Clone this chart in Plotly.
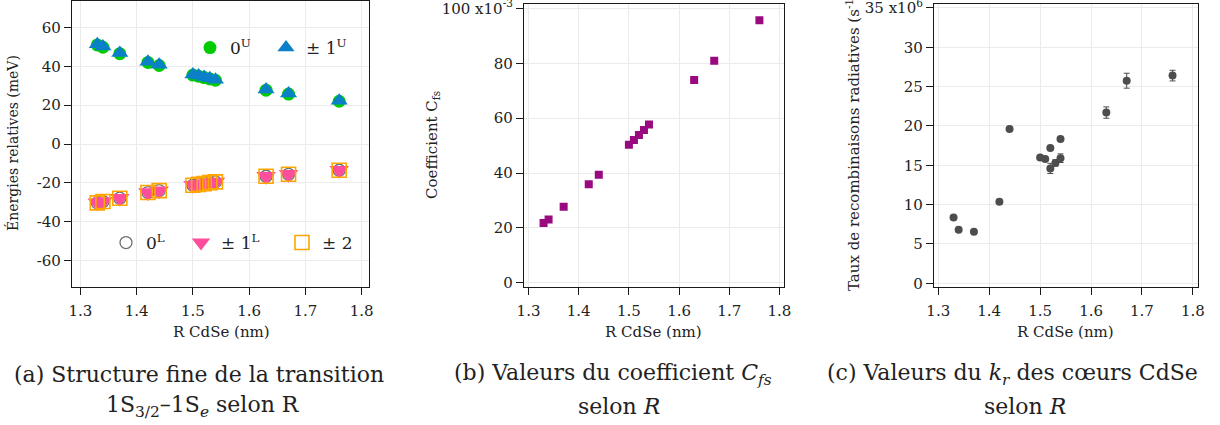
import plotly.graph_objects as go

# ---------------- data ----------------
R = [1.33, 1.34, 1.37, 1.42, 1.44, 1.50, 1.51, 1.52, 1.53, 1.54, 1.63, 1.67, 1.76]
E_0U = [51.0, 49.8, 46.5, 42.0, 40.4, 35.5, 34.9, 34.2, 33.5, 32.8, 27.7, 25.7, 22.0]
E_1U = [51.3, 50.2, 46.8, 42.3, 40.8, 35.8, 35.2, 34.5, 33.8, 33.1, 28.0, 26.0, 22.3]
E_0L = [-30.3, -29.6, -27.9, -25.0, -24.0, -21.2, -20.8, -20.4, -19.9, -19.5, -16.6, -15.6, -13.5]
E_1L = [-30.3, -29.6, -27.9, -25.0, -24.0, -21.2, -20.8, -20.4, -19.9, -19.5, -16.6, -15.6, -13.5]
E_2 = [-30.3, -29.6, -27.9, -25.0, -24.0, -21.2, -20.8, -20.4, -19.9, -19.5, -16.6, -15.6, -13.5]

Cfs = [21.8, 23.1, 27.7, 35.9, 39.4, 50.3, 52.1, 53.9, 55.7, 57.7, 73.9, 80.9, 95.7]  # x10^-3

R_c = [1.33, 1.34, 1.37, 1.42, 1.44, 1.50, 1.51, 1.52, 1.52, 1.53, 1.54, 1.54, 1.63, 1.67, 1.76]
kr = [8.35, 6.8, 6.55, 10.35, 19.6, 16.0, 15.8, 17.2, 14.6, 15.3, 18.35, 15.9, 21.7, 25.75, 26.4]  # x10^6
kr_err = [0.2, 0.2, 0.2, 0.2, 0.2, 0.2, 0.2, 0.2, 0.65, 0.4, 0.2, 0.55, 0.72, 0.95, 0.68]

x_ticks = [1.3, 1.4, 1.5, 1.6, 1.7, 1.8]
x_ticktext = ["1.3", "1.4", "1.5", "1.6", "1.7", "1.8"]
ya_ticks = [-60, -40, -20, 0, 20, 40, 60]
ya_ticktext = ["-60", "-40", "-20", "0", "20", "40", "60"]
yb_ticks = [0, 20, 40, 60, 80, 100]
yb_ticktext = ["0", "20", "40", "60", "80", "100 x10<sup>-3</sup>"]
yc_ticks = [0, 5, 10, 15, 20, 25, 30, 35]
yc_ticktext = ["0", "5", "10", "15", "20", "25", "30", "35 x10<sup>6</sup>"]

FONT = "DejaVu Serif"
W, H = 1220, 425


def px_x(p):
    return p / W


def px_y(p):
    return 1 - p / H


fig = go.Figure()

# ---- panel (a) ----
fig.add_trace(go.Scatter(x=R, y=E_0U, mode="markers", name="0<sup>U</sup>",
                         marker=dict(symbol="circle", size=13, color="#00cc00"),
                         xaxis="x", yaxis="y", legend="legend"))
fig.add_trace(go.Scatter(x=R, y=E_1U, mode="markers", name="± 1<sup>U</sup>",
                         marker=dict(symbol="triangle-up", size=15, color="#0a80c8"),
                         xaxis="x", yaxis="y", legend="legend2"))
fig.add_trace(go.Scatter(x=R, y=E_0L, mode="markers", name="0<sup>L</sup>",
                         marker=dict(symbol="circle-open", size=12, color="#707070",
                                     line=dict(width=1.3)),
                         xaxis="x", yaxis="y", legend="legend3"))
fig.add_trace(go.Scatter(x=R, y=E_1L, mode="markers", name="± 1<sup>L</sup>",
                         marker=dict(symbol="triangle-down", size=17, color="#ff4d9d"),
                         xaxis="x", yaxis="y", legend="legend4"))
fig.add_trace(go.Scatter(x=R, y=E_2, mode="markers", name="± 2",
                         marker=dict(symbol="square-open", size=14, color="#ffa500",
                                     line=dict(width=1.6)),
                         xaxis="x", yaxis="y", legend="legend5"))

# ---- panel (b) ----
fig.add_trace(go.Scatter(x=R, y=Cfs, mode="markers", showlegend=False,
                         marker=dict(symbol="square", size=8, color="#990a80"),
                         xaxis="x2", yaxis="y2"))

# ---- panel (c) ----
fig.add_trace(go.Scatter(x=R_c, y=kr, mode="markers", showlegend=False,
                         marker=dict(symbol="circle", size=8, color="#4d4d4d"),
                         error_y=dict(type="data", array=kr_err, visible=True,
                                      color="#4d4d4d", thickness=1, width=3),
                         xaxis="x3", yaxis="y3"))

axis_common = dict(showline=True, linecolor="#1a1a1a", linewidth=1.2, mirror=True,
                   ticks="outside", ticklen=7, tickcolor="#1a1a1a", tickwidth=1,
                   showgrid=True, gridcolor="#ebebeb", gridwidth=1, zeroline=False,
                   tickfont=dict(family=FONT, size=15, color="#222222"),
                   automargin=False, tickmode="array", ticklabeloverflow="allow")

xaxis_extra = dict(ticklabelstandoff=3)

legend_common = dict(orientation="h", xanchor="left", yanchor="middle",
                     bgcolor="rgba(0,0,0,0)", font=dict(family=FONT, size=17, color="#222222"),
                     itemclick=False, itemdoubleclick=False)

fig.update_layout(
    width=W, height=H,
    margin=dict(l=0, r=0, t=0, b=0, autoexpand=False),
    paper_bgcolor="white", plot_bgcolor="white",
    font=dict(family=FONT, size=15, color="#222222"),
    xaxis=dict(domain=[px_x(72), px_x(369)], range=[1.285, 1.813],
               tickvals=x_ticks, ticktext=x_ticktext, anchor="y", **axis_common, **xaxis_extra),
    yaxis=dict(domain=[px_y(287), px_y(1)], range=[-73.6, 73.6],
               tickvals=ya_ticks, ticktext=ya_ticktext, anchor="x", **axis_common),
    xaxis2=dict(domain=[px_x(524), px_x(784)], range=[1.291, 1.809],
                tickvals=x_ticks, ticktext=x_ticktext, anchor="y2", **axis_common, **xaxis_extra),
    yaxis2=dict(domain=[px_y(287), px_y(3.5)], range=[-1.5, 101.8],
                tickvals=yb_ticks, ticktext=yb_ticktext, anchor="x2", **axis_common),
    xaxis3=dict(domain=[px_x(934), px_x(1198)], range=[1.2916, 1.81],
                tickvals=x_ticks, ticktext=x_ticktext, anchor="y3", **axis_common, **xaxis_extra),
    yaxis3=dict(domain=[px_y(287), px_y(4)], range=[-0.47, 35.5],
                tickvals=yc_ticks, ticktext=yc_ticktext, anchor="x3", **axis_common),
    legend=dict(x=px_x(190), y=px_y(48), **legend_common),
    legend2=dict(x=px_x(266), y=px_y(48), **legend_common),
    legend3=dict(x=px_x(106), y=px_y(243), **legend_common),
    legend4=dict(x=px_x(181), y=px_y(243), **legend_common),
    legend5=dict(x=px_x(282), y=px_y(243), **legend_common),
)

annotations = [
    # axis titles
    dict(text="Énergies relatives (meV)", x=px_x(13), y=px_y(143), textangle=-90,
         font=dict(size=14)),
    dict(text="R CdSe (nm)", x=px_x(221), y=px_y(332), font=dict(size=15)),
    dict(text="Coefficient C<sub>fs</sub>", x=px_x(432), y=px_y(145), textangle=-90,
         font=dict(size=15)),
    dict(text="R CdSe (nm)", x=px_x(653), y=px_y(332), font=dict(size=15)),
    dict(text="Taux de recombinaisons radiatives (s<sup>-1</sup>)", x=px_x(853),
         y=px_y(293), textangle=-90, yanchor="bottom", font=dict(size=15)),
    dict(text="R CdSe (nm)", x=px_x(1065), y=px_y(332), font=dict(size=15)),
    # captions
    dict(text="(a) Structure fine de la transition", x=px_x(199), y=px_y(374), font=dict(size=22)),
    dict(text="1S<sub>3/2</sub>–1S<sub><i>e</i></sub> selon R", x=px_x(203), y=px_y(406),
         font=dict(size=22)),
    dict(text="(b) Valeurs du coefficient <i>C</i><sub><i>fs</i></sub>", x=px_x(613),
         y=px_y(374), font=dict(size=22)),
    dict(text="selon <i>R</i>", x=px_x(619), y=px_y(406), font=dict(size=22)),
    dict(text="(c) Valeurs du <i>k</i><sub><i>r</i></sub> des cœurs CdSe", x=px_x(1012),
         y=px_y(374), font=dict(size=22)),
    dict(text="selon <i>R</i>", x=px_x(1025), y=px_y(406), font=dict(size=22)),
]
for a in annotations:
    a.setdefault("xref", "paper")
    a.setdefault("yref", "paper")
    a.setdefault("showarrow", False)
    a.setdefault("xanchor", "center")
    a.setdefault("yanchor", "middle")
    a["font"] = dict(family=FONT, color="#222222", **a.get("font", {}))
fig.update_layout(annotations=annotations)

fig.write_html(
    "out.html",
    config={"responsive": False, "displayModeBar": False},
    post_script="document.body.style.margin='0';document.body.style.overflow='hidden';",
)
